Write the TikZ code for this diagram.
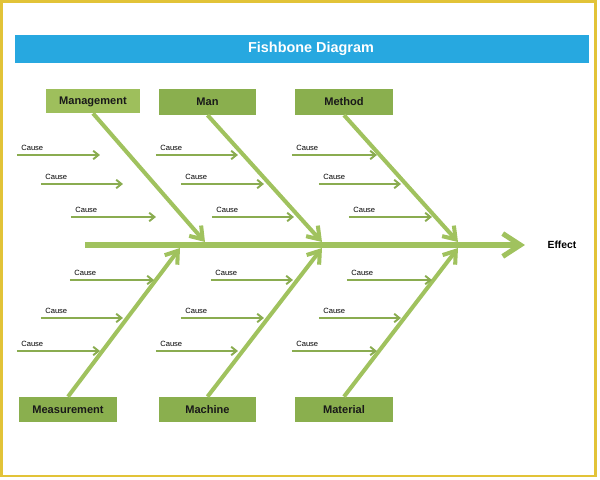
\documentclass[tikz,border=0pt]{standalone}
\usepackage{fontspec}
\setmainfont{Liberation Sans}
\usetikzlibrary{arrows.meta}

\definecolor{framegold}{HTML}{E2C338}
\definecolor{titleblue}{HTML}{27A8E0}
\definecolor{boxgreen}{HTML}{8AAF4E}
\definecolor{mgmtgreen}{HTML}{9EBF5C}
\definecolor{bonegreen}{HTML}{A0C25E}
\definecolor{causegreen}{HTML}{8AAC50}

\tikzset{
  catbox/.style={fill=boxgreen, minimum width=1.96cm, minimum height=0.51cm, inner sep=0pt,
    text height=4.5pt, text depth=0pt,
    font=\fontsize{6.3}{7}\selectfont\bfseries, text=black!90},
  bone/.style={bonegreen, line width=2.3pt, -{Straight Barb[length=6.5pt,width=9pt]}},
  spine/.style={bonegreen, line width=2.9pt, -{Straight Barb[length=10pt,width=13pt]}},
  causearrow/.style={causegreen, line width=1.1pt, -{Straight Barb[length=3pt,width=4.8pt]}},
  causetext/.style={font=\fontsize{4.3}{5}\selectfont, anchor=south west, inner sep=0pt}
}

\begin{document}
\begin{tikzpicture}[x=0.02cm, y=-0.02cm]
\useasboundingbox (0,0) rectangle (600,480);
\draw[framegold, line width=1.7pt] (1.5,1.2) rectangle (595.5,476);
\fill[titleblue] (15,35) rectangle (589,63);
\node[text=white, font=\fontsize{8.2}{9}\selectfont\bfseries] (title) at (311,49) {Fishbone Diagram};
% categories
\node[catbox, fill=mgmtgreen, minimum width=1.88cm, minimum height=0.48cm] (mgmt) at (93,101) {Management};
\node[catbox] (man) at (207.5,102) {Man};
\node[catbox] (method) at (344,102) {Method};
\node[catbox, minimum height=0.5cm] (measure) at (68,409.5) {Measurement};
\node[catbox, minimum height=0.5cm] (machine) at (207.5,409.5) {Machine};
\node[catbox, minimum height=0.5cm] (material) at (344,409.5) {Material};
% spine
\coordinate (tail) at (85,245);
\coordinate (head) at (525,245);
\node[font=\fontsize{5.9}{7}\selectfont\bfseries] (effect) at (562,245) {Effect};
\draw[spine] (tail) -- (head);
% bones
\coordinate (mgmtend) at (205,242);
\coordinate (manend) at (322,242);
\coordinate (methodend) at (458,242);
\coordinate (measureend) at (180,248);
\coordinate (machineend) at (322,248);
\coordinate (materialend) at (458,248);
\draw[bone] (mgmt.south) -- (mgmtend);
\draw[bone] (man.south) -- (manend);
\draw[bone] (method.south) -- (methodend);
\draw[bone] (measure.north) -- (measureend);
\draw[bone] (machine.north) -- (machineend);
\draw[bone] (material.north) -- (materialend);
% causes
\foreach \xa/\xb/\y [count=\n] in {17/100/155, 156/238/155, 292/377/155,
    41/123/184, 181/264/184, 319/401/184,
    71/156/217, 212/294/217, 349/432/217,
    70/154/280, 211/293/280, 347/432/280,
    41/123/318, 181/264/318, 319/401/318,
    17/100/351, 156/238/351, 292/377/351}{
  \coordinate (cs\n) at (\xa,\y);
  \coordinate (ce\n) at (\xb,\y);
  \node[causetext] (cl\n) at (\xa+4,\y-4) {Cause};
  \draw[causearrow] (cs\n) -- (ce\n);
}
\end{tikzpicture}
\end{document}
